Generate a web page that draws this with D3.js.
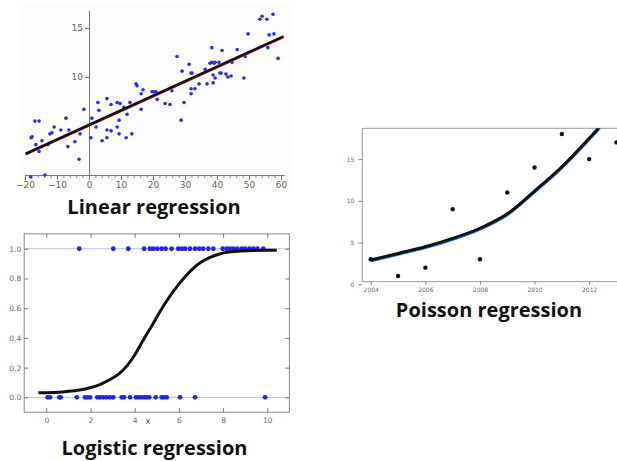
<!DOCTYPE html>
<html>
<head>
<meta charset="utf-8">
<script src="https://cdn.jsdelivr.net/npm/d3@7/dist/d3.min.js"></script>
<style>
  body { margin: 0; background: #fff; }
  svg { display: block; }
  .tick text { fill: #666; }
  .title { font-family: "Open Sans", Lato, sans-serif; font-weight: bold; fill: #111; text-anchor: middle; }
</style>
</head>
<body>
<script>
// ---------- data ----------

// linear regression scatter
var linX = [-18.1, -17.8, -16.9, -15.6, -16.6, -15.6, -14.7, -13.8, -18.2, -12.8, -12.2, -11.6, -10.9,
  -8.8, -7.2, -6.6, -6.3, -4.4, -3.1, -2.8, -1.6, 0.6, 0.9, 2.2, 2.8, 3.1, 4.1, 5.6, 5.6, 5.6,
  6.9, 6.9, 8.8, 8.8, 9.7, 9.4, 9.4, 10.9, 11.6, 11.9, 12.8, 13.4, 14.7, 15.0, 16.3, 16.3, 16.9,
  19.7, 20.3, 20.9, 21.3, 23.8, 25.3, 25.9, 27.5, 28.8, 29.1, 29.7, 31.3, 31.9, 32.2, 31.9, 33.1,
  31.9, 34.4, 36.3, 36.9, 38.4, 37.8, 38.4, 39.1, 39.4, 38.8, 39.4, 38.8, 40.6, 40.9, 41.3, 41.6,
  42.8, 43.4, 44.4, 44.7, 46.3, 48.4, 48.8, 49.7, 53.4, 54.1, 55.6, 55.9, 56.3, 57.5, 57.8, 59.1];
var linY = [3.8, 3.9, 5.5, 5.5, 3.1, 2.4, 3.5, 0.0, -0.2, 3.1, 4.2, 4.3, 4.9,
  4.6, 5.8, 2.9, 4.6, 3.4, 1.6, 4.2, 6.7, 3.8, 5.8, 4.9, 7.4, 6.6, 3.5, 7.8, 4.6, 3.8,
  7.2, 4.5, 4.9, 7.4, 7.3, 5.6, 4.2, 6.9, 3.8, 6.2, 7.4, 4.2, 9.3, 9.1, 6.7, 8.3, 8.7,
  8.5, 8.5, 8.5, 7.7, 7.3, 7.2, 8.6, 12.1, 5.6, 10.6, 7.4, 11.3, 10.4, 10.4, 8.8, 8.8,
  8.3, 9.3, 10.8, 9.3, 13.0, 11.4, 11.5, 11.4, 11.5, 10.2, 9.9, 9.4, 11.5, 10.4, 10.4, 12.7,
  10.3, 10.0, 10.1, 11.5, 12.8, 9.9, 12.1, 14.4, 15.9, 16.2, 15.9, 13.0, 14.3, 16.4, 14.4, 11.9];
var linFitX = [-19.8, 60.8];
var linFitY = [2.17, 14.15];
var linXTicks = [-20, -10, 0, 10, 20, 30, 40, 50, 60];
var linYTicks = [10, 15];

// logistic regression: observations at 1 and at 0, and the fitted curve
var logOneX = [1.49, 3.03, 3.71, 4.43, 4.69, 4.84, 5.02, 5.22, 5.40, 5.67, 5.97, 6.13, 6.28, 6.50,
  6.73, 6.92, 7.10, 7.33, 7.56, 7.98, 8.16, 8.31, 8.46, 8.64, 8.84, 8.99, 9.19, 9.37, 9.55, 9.82];
var logZeroX = [0.06, 0.17, 0.59, 0.65, 1.38, 1.75, 1.86, 1.98, 2.31, 2.43, 2.58, 2.73, 2.88, 3.03,
  3.41, 3.52, 3.79, 4.06, 4.16, 4.29, 4.42, 4.54, 4.66, 4.95, 5.22, 5.33, 5.45, 6.05, 6.73, 9.90];
var logCurveX = [-0.36, 0.3, 0.92, 1.5, 1.98, 2.45, 2.88, 3.3, 3.64, 4.0, 4.39, 4.77, 5.14, 5.52, 5.90,
  6.27, 6.65, 7.03, 7.41, 7.8, 8.16, 8.8, 9.37, 10.43];
var logCurveY = [0.031, 0.033, 0.040, 0.050, 0.065, 0.088, 0.12, 0.16, 0.21, 0.285, 0.386, 0.48,
  0.576, 0.665, 0.744, 0.81, 0.868, 0.912, 0.942, 0.963, 0.976, 0.985, 0.989, 0.99];
var logXTicks = [0, 2, 4, 6, 8, 10];
var logYTicks = [0, 0.2, 0.4, 0.6, 0.8, 1.0];

// poisson regression: yearly counts and fitted curve
var poisYears = [2004, 2005, 2006, 2007, 2008, 2009, 2010, 2011, 2012, 2013];
var poisCounts = [3, 1, 2, 9, 3, 11, 14, 18, 15, 17];
var poisFitX = [2004, 2005, 2006, 2007, 2008, 2009, 2010, 2011, 2012, 2012.4];
var poisFitY = [2.92, 3.7, 4.5, 5.5, 6.72, 8.45, 11.18, 14.09, 17.49, 18.9];
var poisXTicks = [2004, 2006, 2008, 2010, 2012];
var poisYTicks = [0, 5, 10, 15];

var titles = ['Linear regression', 'Logistic regression', 'Poisson regression'];

var svg = d3.select('body')
  .append('svg')
  .attr('width', 617)
  .attr('height', 461);

// ---------- Linear regression (top left) ----------

var xL = d3.scaleLinear().domain([-20, 61]).range([25, 284.2]);
var yL = d3.scaleLinear().domain([0, 16.8]).range([175, 10.4]);

var lin = svg.append('g');

lin.append('rect')
  .attr('x', 20).attr('y', 6)
  .attr('width', 272).attr('height', 186)
  .attr('fill', '#fbfcfa');

// minor ticks every 2 on the bottom axis
var minorX = d3.range(-20, 61, 2);
lin.append('g')
  .attr('transform', 'translate(0,' + yL(0) + ')')
  .call(d3.axisBottom(xL).tickValues(minorX).tickSize(3).tickFormat(''))
  .call(function(g){ g.select('.domain').remove(); })
  .selectAll('line').attr('stroke', '#888');

lin.append('g')
  .attr('transform', 'translate(0,' + yL(0) + ')')
  .call(d3.axisBottom(xL).tickValues(linXTicks).tickSize(5).tickSizeOuter(0).tickPadding(2))
  .call(function(g){
    g.select('.domain').attr('stroke', '#777');
    g.selectAll('line').attr('stroke', '#777');
    g.selectAll('text').attr('font-size', 9).attr('font-family', 'DejaVu Sans');
  });

lin.append('g')
  .attr('transform', 'translate(' + xL(0) + ',0)')
  .call(d3.axisLeft(yL).tickValues(linYTicks).tickSize(4).tickSizeOuter(0).tickPadding(2))
  .call(function(g){
    g.select('.domain').attr('stroke', '#777');
    g.selectAll('line').attr('stroke', '#777');
    g.selectAll('text').attr('font-size', 9).attr('font-family', 'DejaVu Sans');
  });

lin.selectAll('.dot')
  .data(linX)
  .enter().append('circle')
  .attr('class', 'dot')
  .attr('cx', function(d){ return xL(d); })
  .attr('cy', function(d, i){ return yL(linY[i]); })
  .attr('r', 1.8)
  .attr('fill', '#2a2af0');

var linLine = d3.line()
  .x(function(d){ return xL(d); })
  .y(function(d, i){ return yL(linFitY[i]); });

// red fit line just under the black one
lin.append('path')
  .datum(linFitX)
  .attr('d', linLine)
  .attr('transform', 'translate(0,1.2)')
  .attr('fill', 'none')
  .attr('stroke', '#e03030')
  .attr('stroke-width', 1.5);

lin.append('path')
  .datum(linFitX)
  .attr('d', linLine)
  .attr('fill', 'none')
  .attr('stroke', '#111')
  .attr('stroke-width', 2.6);

svg.append('text')
  .attr('class', 'title')
  .attr('x', 154).attr('y', 214)
  .attr('font-size', 20)
  .text(titles[0]);

// ---------- Logistic regression (bottom left) ----------

var xG = d3.scaleLinear().domain([-1, 11]).range([24.2, 289.4]);
var yG = d3.scaleLinear().domain([-0.1, 1.1]).range([412.2, 233.9]);

var lg = svg.append('g');

// faint reference lines at 0 and 1
lg.selectAll('.ref')
  .data([0, 1])
  .enter().append('line')
  .attr('x1', xG(-1)).attr('x2', xG(11))
  .attr('y1', function(d){ return yG(d); })
  .attr('y2', function(d){ return yG(d); })
  .attr('stroke', '#b4bcff')
  .attr('stroke-width', 1);

lg.append('rect')
  .attr('x', xG(-1)).attr('y', yG(1.1))
  .attr('width', xG(11) - xG(-1))
  .attr('height', yG(-0.1) - yG(1.1))
  .attr('fill', 'none')
  .attr('stroke', '#888');

function styleG(g){
  g.select('.domain').remove();
  g.selectAll('line').attr('stroke', '#777');
  g.selectAll('text').attr('font-size', 7.5).attr('font-family', 'DejaVu Sans');
}

// matplotlib style: ticks inside the frame, all four sides
lg.append('g')
  .attr('transform', 'translate(0,' + yG(-0.1) + ')')
  .call(d3.axisBottom(xG).tickValues(logXTicks).tickSize(-4).tickPadding(5))
  .call(styleG);
lg.append('g')
  .attr('transform', 'translate(0,' + yG(1.1) + ')')
  .call(d3.axisTop(xG).tickValues(logXTicks).tickSize(-4).tickFormat(''))
  .call(styleG);
lg.append('g')
  .attr('transform', 'translate(' + xG(-1) + ',0)')
  .call(d3.axisLeft(yG).tickValues(logYTicks).tickSize(-4).tickPadding(3).tickFormat(d3.format('.1f')))
  .call(styleG);
lg.append('g')
  .attr('transform', 'translate(' + xG(11) + ',0)')
  .call(d3.axisRight(yG).tickValues(logYTicks).tickSize(-4).tickFormat(''))
  .call(styleG);

lg.append('text')
  .attr('x', xG(4.6)).attr('y', 424)
  .attr('text-anchor', 'middle')
  .attr('font-size', 8)
  .attr('font-family', 'DejaVu Sans')
  .attr('fill', '#555')
  .text('x');

lg.selectAll('.one')
  .data(logOneX)
  .enter().append('circle')
  .attr('cx', function(d){ return xG(d); })
  .attr('cy', yG(1))
  .attr('r', 2.4)
  .attr('fill', '#2424e8');

lg.selectAll('.zero')
  .data(logZeroX)
  .enter().append('circle')
  .attr('cx', function(d){ return xG(d); })
  .attr('cy', yG(0))
  .attr('r', 2.4)
  .attr('fill', '#2424e8');

lg.append('path')
  .datum(logCurveX)
  .attr('d', d3.line()
    .x(function(d){ return xG(d); })
    .y(function(d, i){ return yG(logCurveY[i]); })
    .curve(d3.curveMonotoneX))
  .attr('fill', 'none')
  .attr('stroke', '#111')
  .attr('stroke-width', 3);

svg.append('text')
  .attr('class', 'title')
  .attr('x', 154.5).attr('y', 455)
  .attr('font-size', 20)
  .text(titles[1]);

// ---------- Poisson regression (right) ----------

var xP = d3.scaleLinear().domain([2003.69, 2013.13]).range([362.3, 620]);
var yP = d3.scaleLinear().domain([0.32, 18.69]).range([281.7, 128.3]);

var ps = svg.append('g');

ps.append('path')
  .attr('d', 'M' + xP(2013.13) + ',' + yP(18.69) + 'H' + xP(2003.69) + 'V' + yP(0.32) + 'H' + xP(2013.13))
  .attr('fill', 'none')
  .attr('stroke', '#999');

function styleP(g){
  g.select('.domain').remove();
  g.selectAll('line').attr('stroke', '#888');
  g.selectAll('text').attr('font-size', 6).attr('font-family', 'DejaVu Sans').attr('fill', '#777');
}

ps.append('g')
  .attr('transform', 'translate(0,' + yP(0.32) + ')')
  .call(d3.axisBottom(xP).tickValues(poisXTicks).tickSize(3).tickPadding(3).tickFormat(d3.format('d')))
  .call(styleP);

ps.append('g')
  .attr('transform', 'translate(' + xP(2003.69) + ',0)')
  .call(d3.axisLeft(yP).tickValues(poisYTicks).tickSize(4).tickPadding(4))
  .call(styleP);

ps.selectAll('.pt')
  .data(poisYears)
  .enter().append('circle')
  .attr('cx', function(d){ return xP(d); })
  .attr('cy', function(d, i){ return yP(poisCounts[i]); })
  .attr('r', 2.2)
  .attr('fill', '#111');

var poisLine = d3.line()
  .x(function(d){ return xP(d); })
  .y(function(d, i){ return yP(poisFitY[i]); })
  .curve(d3.curveMonotoneX);

ps.append('clipPath').attr('id', 'pclip')
  .append('rect')
  .attr('x', xP(2003.69)).attr('y', yP(18.69))
  .attr('width', 260).attr('height', yP(0.32) - yP(18.69));

// blue fit line peeking out under the black one
ps.append('path')
  .datum(poisFitX)
  .attr('d', poisLine)
  .attr('clip-path', 'url(#pclip)')
  .attr('transform', 'translate(0.5,1.3)')
  .attr('fill', 'none')
  .attr('stroke', '#2c7fd0')
  .attr('stroke-width', 2);

ps.append('path')
  .datum(poisFitX)
  .attr('d', poisLine)
  .attr('clip-path', 'url(#pclip)')
  .attr('fill', 'none')
  .attr('stroke', '#111')
  .attr('stroke-width', 3);

svg.append('text')
  .attr('class', 'title')
  .attr('x', 489).attr('y', 317)
  .attr('font-size', 20)
  .text(titles[2]);
</script>
</body>
</html>
